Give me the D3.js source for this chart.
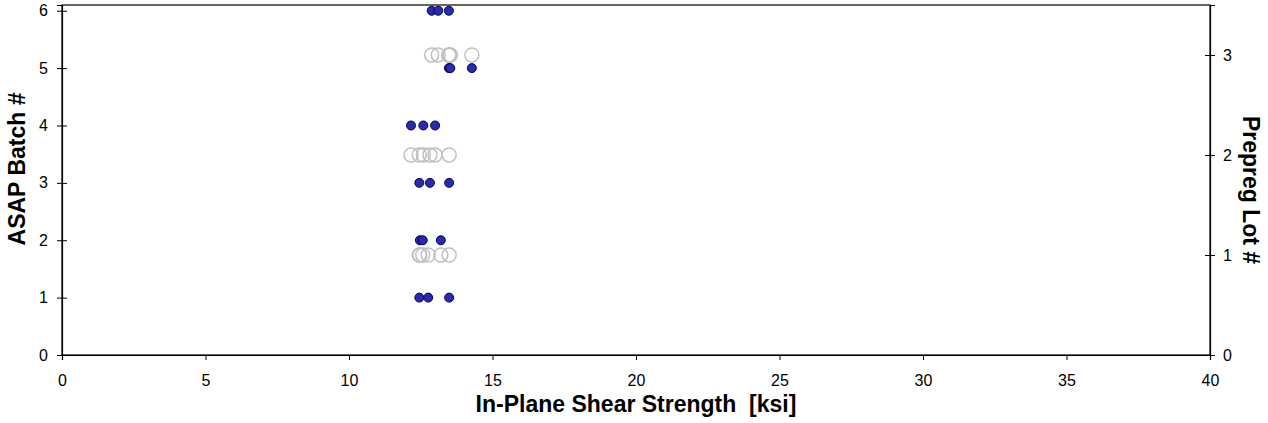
<!DOCTYPE html>
<html><head><meta charset="utf-8">
<script src="https://cdn.jsdelivr.net/npm/d3@7"></script>
<style>body{margin:0;background:#fff}svg{display:block}text{font-family:"Liberation Sans",Arial,sans-serif}</style>
</head><body><svg id="c" width="1268" height="423"></svg>
<script>
const batches = [1,1,1,2,2,2,3,3,3,4,4,4,5,5,5,6,6,6];
const strength = [12.45,12.76,13.49, 12.47,12.57,13.2, 12.45,12.82,13.49, 12.16,12.59,13.0, 13.48,13.53,14.28, 12.88,13.11,13.48];
const lots = [1,1,1,1,1,1,2,2,2,2,2,2,3,3,3,3,3,3];
const lotStrength = [12.45,12.76,13.49,12.47,12.57,13.2, 12.45,12.82,13.49,12.16,12.59,13.0, 13.48,13.53,14.28,12.88,13.11,13.48];
const xTicks = [0,5,10,15,20,25,30,35,40];
const yLeftTicks = [0,1,2,3,4,5,6];
const yRightTicks = [0,1,2,3];

const svg = d3.select("#c");
const L=62,R=1210,T=5,B=355;
const x = d3.scaleLinear().domain([0,40]).range([L,R]);
const yl = d3.scaleLinear().domain([0,6.1]).range([B,T]);
const yr = d3.scaleLinear().domain([0,3.5]).range([B,T]);

svg.append("rect").attr("x",L).attr("y",T).attr("width",R-L).attr("height",B-T)
  .attr("fill","none").attr("stroke","#000").attr("stroke-width",1.2);

const fs = 16;
const gx = svg.append("g").attr("transform",`translate(0,${B})`)
  .call(d3.axisBottom(x).tickValues(xTicks).tickSize(5).tickPadding(15).tickFormat(d3.format("d")));
const gl = svg.append("g").attr("transform",`translate(${L},0)`)
  .call(d3.axisLeft(yl).tickValues(yLeftTicks).tickSize(5).tickPadding(9).tickFormat(d3.format("d")));
const gr = svg.append("g").attr("transform",`translate(${R},0)`)
  .call(d3.axisRight(yr).tickValues(yRightTicks).tickSize(5).tickPadding(8).tickFormat(d3.format("d")));
[gx,gl,gr].forEach(g=>{
  g.attr("font-size",fs).attr("font-family","Liberation Sans, Arial, sans-serif");
  g.select(".domain").attr("stroke","#000").attr("stroke-width",1.2);
  g.selectAll(".tick line").attr("stroke","#000");
  g.selectAll(".tick text").attr("fill","#000");
});
gl.selectAll(".tick line").attr("x1",5);
gr.selectAll(".tick line").attr("x1",-5);

svg.append("g").selectAll("circle").data(lots).join("circle")
  .attr("cx",(d,i)=>x(lotStrength[i])).attr("cy",d=>yr(d)).attr("r",7)
  .attr("fill","none").attr("stroke","#c0c0c0").attr("stroke-width",1.5);

svg.append("g").selectAll("circle").data(batches).join("circle")
  .attr("cx",(d,i)=>x(strength[i])).attr("cy",d=>yl(d)).attr("r",4.5)
  .attr("fill","#2b2ba6").attr("stroke","#000066").attr("stroke-width",1);

svg.append("text").attr("x",636).attr("y",412).attr("text-anchor","middle")
  .attr("font-size",23).attr("font-weight","bold")
  .text("In-Plane Shear Strength \u00a0[ksi]");
svg.append("text").attr("transform",`translate(25,169) rotate(-90)`).attr("text-anchor","middle")
  .attr("font-size",23).attr("font-weight","bold").text("ASAP Batch #");
svg.append("text").attr("transform",`translate(1243,190) rotate(90)`).attr("text-anchor","middle")
  .attr("font-size",23).attr("font-weight","bold").text("Prepreg Lot #");
</script></body></html>
